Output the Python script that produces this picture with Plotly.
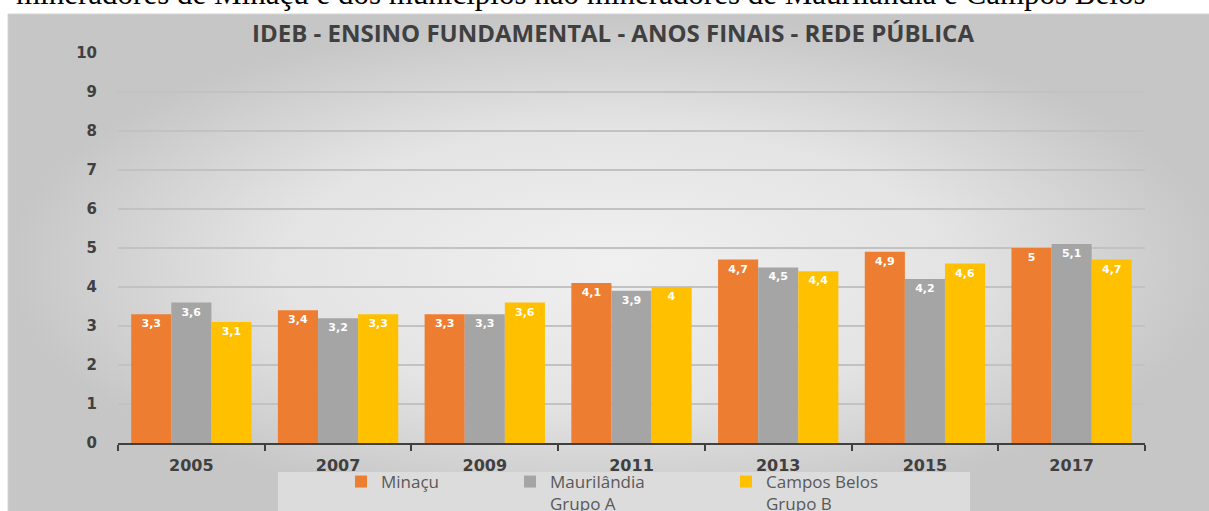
import plotly.graph_objects as go

W, H = 1209, 511

years = ["2005", "2007", "2009", "2011", "2013", "2015", "2017"]
minacu = [3.3, 3.4, 3.3, 4.1, 4.7, 4.9, 5.0]
maurilandia = [3.6, 3.2, 3.3, 3.9, 4.5, 4.2, 5.1]
campos_belos = [3.1, 3.3, 3.6, 4.0, 4.4, 4.6, 4.7]

series_names = ["Minaçu", "Maurilândia<br>Grupo A", "Campos Belos<br>Grupo B"]
series_colors = ["#ED7D31", "#A5A5A5", "#FFC000"]
series_values = [minacu, maurilandia, campos_belos]

title_text = "IDEB - ENSINO FUNDAMENTAL - ANOS FINAIS - REDE PÚBLICA"
top_text = "mineradores de Minaçu e dos municípios não mineradores de Maurilândia e Campos Belos"

def px_x(p):
    return p / W

def px_y(p):
    return 1 - p / H

def fmt(v):
    return f"{v:g}".replace(".", ",")

fig = go.Figure()

# chart-area background with soft radial gradient (subplot xy, drawn first)
bx0, by0 = px_x(8), px_y(14)
fig.add_trace(go.Scatter(
    x=[bx0, 1.01, 1.01, bx0, bx0], y=[-0.01, -0.01, by0, by0, -0.01],
    mode="lines", fill="toself",
    fillgradient=dict(type="radial",
                      colorscale=[[0, "#f0f0f0"], [0.55, "#e4e4e4"], [1, "#c6c6c6"]]),
    line=dict(color="#d4d4d4", width=1),
    hoverinfo="skip", showlegend=False, xaxis="x", yaxis="y",
))

legend_ids = ["legend", "legend2", "legend3"]
for name, color, vals, lg in zip(series_names, series_colors, series_values, legend_ids):
    fig.add_trace(go.Bar(
        x=years, y=vals, name=name, marker=dict(color=color, line=dict(width=0)),
        text=[fmt(v) for v in vals], textposition="inside", insidetextanchor="end",
        textangle=0, constraintext="none",
        textfont=dict(family="DejaVu Sans", size=11, color="white", weight="bold"),
        xaxis="x2", yaxis="y2", legend=lg,
    ))

leg_common = dict(orientation="v", bgcolor="rgba(0,0,0,0)", xanchor="left", yanchor="top",
                  valign="top", font=dict(family="Open Sans", size=17, color="#595959"),
                  itemclick=False, itemdoubleclick=False, tracegroupgap=0)
leg_y = px_y(464)

fig.update_layout(
    width=W, height=H,
    margin=dict(l=0, r=0, t=0, b=0, autoexpand=False),
    paper_bgcolor="white",
    plot_bgcolor="rgba(0,0,0,0)",
    barmode="group", bargap=0.18, bargroupgap=0,
    showlegend=True,
    legend=dict(x=px_x(341), y=leg_y, **leg_common),
    legend2=dict(x=px_x(510), y=leg_y, **leg_common),
    legend3=dict(x=px_x(726), y=leg_y, **leg_common),
    xaxis=dict(domain=[0, 1], range=[0, 1], visible=False, fixedrange=True),
    yaxis=dict(domain=[0, 1], range=[0, 1], visible=False, fixedrange=True),
    xaxis2=dict(domain=[px_x(118), px_x(1145)], anchor="y2", type="category",
                showline=True, linecolor="#404040", linewidth=1.5,
                ticks="outside", tickson="boundaries", ticklen=6, tickcolor="#404040",
                tickwidth=1.5, ticklabelstandoff=7,
                tickfont=dict(family="DejaVu Sans", size=16, color="#404040", weight="bold"),
                showgrid=False, fixedrange=True),
    yaxis2=dict(domain=[px_y(443), px_y(52)], anchor="x2", range=[0, 10.02],
                tickvals=list(range(0, 11)), showline=False, zeroline=False,
                showgrid=True, gridcolor="#c2c2c2", gridwidth=1.5,
                ticks="", ticklabelstandoff=20, fixedrange=True,
                tickfont=dict(family="DejaVu Sans", size=15, color="#404040", weight="bold")),
    shapes=[dict(type="rect", xref="paper", yref="paper",
                 x0=px_x(278), x1=px_x(970), y0=-0.02, y1=px_y(472),
                 fillcolor="#dcdcdc", line=dict(width=0), layer="above")],
    annotations=[
        dict(text="<b>" + title_text + "</b>", xref="paper", yref="paper",
             x=px_x(613), y=px_y(33), xanchor="center", yanchor="middle", showarrow=False,
             font=dict(family="Open Sans", size=24, color="#404040")),
        dict(text=top_text, xref="paper", yref="paper",
             x=px_x(14), y=px_y(-6.5), xanchor="left", yanchor="middle", showarrow=False,
             font=dict(family="Liberation Serif", size=31, color="black")),
    ],
)

fig.write_html("out.html", config={"displayModeBar": False},
               post_script="document.body.style.margin='0';")
